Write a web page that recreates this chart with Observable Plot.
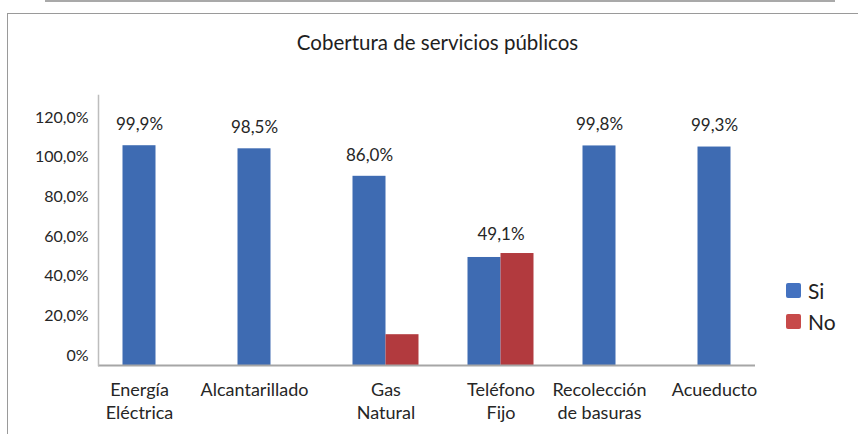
<!DOCTYPE html>
<html>
<head>
<meta charset="utf-8">
<script src="https://cdn.jsdelivr.net/npm/d3@7"></script>
<script src="https://cdn.jsdelivr.net/npm/@observablehq/plot@0.6"></script>
<style>
  html, body { margin: 0; padding: 0; background: #fff; }
  #chart { position: relative; width: 858px; height: 434px; overflow: hidden; font-family: Lato, "Noto Sans", sans-serif; color: #262626; }
  #chart svg { position: absolute; left: 0; top: 0; }
  .topline { position: absolute; left: 45px; top: 0; width: 790px; height: 2px; background: #a9a9a9; }
  .frame { position: absolute; left: 7px; top: 13px; width: 860px; height: 440px; border-left: 1.5px solid #9a9a9a; border-top: 1.5px solid #9a9a9a; }
  .title { position: absolute; left: 0; width: 875px; top: 30px; text-align: center; font-size: 20.5px; color: #1e1e1e; }
  .legend { position: absolute; left: 786px; top: 275px; font-size: 21px; color: #222; }
  .legend .item { display: flex; align-items: center; height: 31px; }
  .legend .sw { width: 15px; height: 15px; border-radius: 2px; margin-right: 7px; }
</style>
</head>
<body>
<div id="chart">
  <div class="topline"></div>
  <div class="frame"></div>
  <div class="title">Cobertura de servicios públicos</div>
  <div class="legend" id="legend"></div>
</div>
<script>
const categories = ["Energía\nEléctrica", "Alcantarillado", "Gas\nNatural", "Teléfono\nFijo", "Recolección\nde basuras", "Acueducto"];
const siValues = [99.9, 98.5, 86.0, 49.1, 99.8, 99.3];
const noValues = [0, 0, 14.0, 50.9, 0, 0];
const valueLabels = ["99,9%", "98,5%", "86,0%", "49,1%", "99,8%", "99,3%"];
const series = ["Si", "No"];
const seriesColors = ["#3e6bb2", "#b23a3e"];
const legendColors = ["#4472c0", "#c74a4a"];
const yTicks = [0, 20, 40, 60, 80, 100, 120];
const yTickLabels = ["0%", "20,0%", "40,0%", "60,0%", "80,0%", "100,0%", "120,0%"];

const rows = categories.map((c, i) => ({cat: c, si: siValues[i], no: noValues[i], label: valueLabels[i]}));
const siRows = rows.map(d => ({cat: d.cat, serie: "Si", value: d.si}));
const noRows = rows.filter(d => d.no > 0).map(d => ({cat: d.cat, serie: "No", value: d.no}));
const catsWithNo = rows.filter(d => d.no > 0).map(d => d.cat);
const catsWithoutNo = rows.filter(d => !(d.no > 0)).map(d => d.cat);

const font = "Lato, 'Noto Sans', sans-serif";
const chart = document.getElementById("chart");

// Axis layer (tick labels as placed in the reference)
const axisPlot = Plot.plot({
  width: 858, height: 434,
  marginLeft: 98, marginRight: 103, marginTop: 95, marginBottom: 69,
  style: {background: "transparent", fontFamily: font, color: "#262626"},
  y: {domain: [0, 120], range: [355, 117]},
  marks: [
    Plot.axisY(yTicks, {tickSize: 0, tickPadding: 10, fontSize: 16, label: null, fill: "#262626",
      tickFormat: d => yTickLabels[yTicks.indexOf(d)]})
  ]
});
chart.appendChild(axisPlot);

// Bars layer
const barPlot = Plot.plot({
  width: 858, height: 434,
  marginLeft: 98, marginRight: 103, marginTop: 95, marginBottom: 69,
  style: {background: "transparent", fontFamily: font, color: "#262626", overflow: "visible"},
  x: {type: "band", domain: categories, range: [98, 788], padding: 0},
  y: {domain: [0, 120], range: [365, 101], axis: null},
  color: {domain: series, range: seriesColors},
  marks: [
    Plot.barY(siRows, {x: "cat", y: "value", fill: "serie", insetLeft: 24.5, insetRight: 57.5}),
    Plot.barY(noRows, {x: "cat", y: "value", fill: "serie", insetLeft: 57.5, insetRight: 24.5}),
    Plot.ruleY([0], {stroke: "#a6a6a6", strokeWidth: 2}),
    Plot.frame({anchor: "left", stroke: "#bdbdbd", strokeWidth: 1.5}),
    Plot.text(rows.filter(d => !(d.no > d.si)), {x: "cat", y: "si", text: "label", dx: -16.5, dy: -21, fontSize: 17, fill: "#262626"}),
    Plot.text(rows.filter(d => d.no > d.si), {x: "cat", y: d => Math.max(d.si, d.no), text: "label", dy: -19, fontSize: 17, fill: "#262626"}),
    Plot.axisX(catsWithNo, {tickSize: 0, tickPadding: 14, fontSize: 18, lineHeight: 1.28, label: null, fill: "#262626"}),
    Plot.axisX(catsWithoutNo, {tickSize: 0, tickPadding: 14, fontSize: 18, lineHeight: 1.28, dx: -16.5, label: null, fill: "#262626"})
  ]
});
chart.appendChild(barPlot);

// Legend
const legend = document.getElementById("legend");
series.forEach((s, i) => {
  const item = document.createElement("div");
  item.className = "item";
  item.innerHTML = `<span class="sw" style="background:${legendColors[i]}"></span><span>${s}</span>`;
  legend.appendChild(item);
});
</script>
</body>
</html>
